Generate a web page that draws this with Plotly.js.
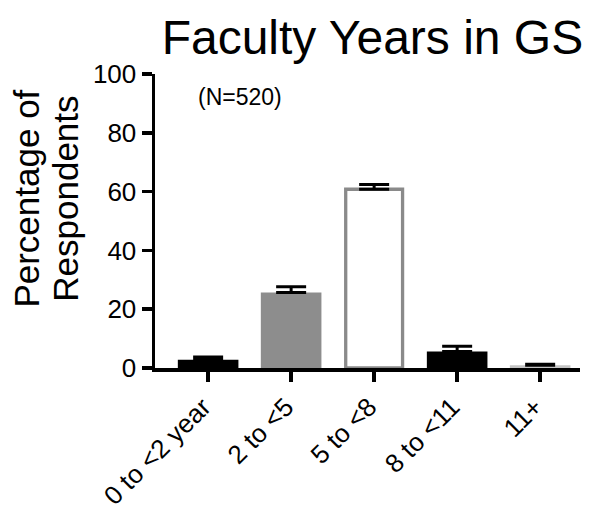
<!DOCTYPE html>
<html>
<head>
<meta charset="utf-8">
<script src="https://cdn.plot.ly/plotly-3.0.1.min.js"></script>
<style>html,body{margin:0;padding:0;background:#fff;}#chart{width:594px;height:510px;}</style>
</head>
<body>
<div id="chart"></div>
<script>
var categories = ['0 to <2 year', '2 to <5', '5 to <8', '8 to <11', '11+'];
var percentages = [2.8, 25.7, 60.8, 5.6, 0.9];
var errorsUp = [0.9, 1.9, 1.6, 1.8, 0.4];
var yTickValues = [0, 20, 40, 60, 80, 100];
var titleText = 'Faculty Years in GS';
var yTitleLines = ['Percentage of', 'Respondents'];
var sampleNote = '(N=520)';

var FONT = 'Liberation Sans, Arial, Helvetica, sans-serif';

var trace = {
  type: 'bar',
  x: categories,
  y: percentages,
  width: [0.73, 0.73, 0.685, 0.73, 0.73],
  marker: {
    color: ['#000000', '#8d8d8d', '#ffffff', '#000000', '#c4c4c4'],
    line: {color: ['#000000', '#8d8d8d', '#8a8a8a', '#000000', '#c4c4c4'], width: [0, 0, 3.3, 0, 0]}
  },
  error_y: {
    type: 'data',
    symmetric: false,
    array: errorsUp,
    arrayminus: percentages.map(function(){return 0;}),
    color: '#000000',
    thickness: 3,
    width: 15
  },
  hoverinfo: 'x+y'
};

var layout = {
  width: 594,
  height: 510,
  margin: {l: 155, r: 14, t: 74, b: 142, pad: 0},
  paper_bgcolor: '#ffffff',
  plot_bgcolor: '#ffffff',
  showlegend: false,
  font: {family: FONT, color: '#000000'},
  title: {
    text: titleText,
    font: {family: FONT, size: 48, color: '#000000'},
    x: 0.627, xref: 'container', xanchor: 'center',
    y: 0.928, yref: 'container', yanchor: 'middle'
  },
  xaxis: {
    type: 'category',
    range: [-0.64, 4.48],
    showline: true, linecolor: '#000000', linewidth: 3.5,
    ticks: 'outside', ticklen: 10, tickwidth: 3.5, tickcolor: '#000000',
    ticklabelstandoff: 0,
    ticklabelshift: -5,
    tickangle: -45,
    tickfont: {family: FONT, size: 26, color: '#000000'},
    showgrid: false, zeroline: false, fixedrange: true
  },
  yaxis: {
    range: [0, 100],
    tickvals: yTickValues,
    ticktext: yTickValues.map(String),
    showline: true, linecolor: '#000000', linewidth: 3.5,
    ticks: 'outside', ticklen: 10, tickwidth: 3.5, tickcolor: '#000000',
    tickfont: {family: FONT, size: 26, color: '#000000'},
    showgrid: false, zeroline: false, fixedrange: true
  },
  annotations: [
    {text: yTitleLines[0], textangle: -90, xref: 'paper', yref: 'paper', x: -0.302, y: 0.575,
     xanchor: 'center', yanchor: 'middle', showarrow: false, font: {family: FONT, size: 35, color: '#000000'}},
    {text: yTitleLines[1], textangle: -90, xref: 'paper', yref: 'paper', x: -0.21, y: 0.575,
     xanchor: 'center', yanchor: 'middle', showarrow: false, font: {family: FONT, size: 35, color: '#000000'}},
    {text: sampleNote, xref: 'x', yref: 'y', x: 0.38, y: 92.3,
     xanchor: 'center', yanchor: 'middle', showarrow: false, font: {family: FONT, size: 23, color: '#000000'}}
  ]
};

Plotly.newPlot('chart', [trace], layout, {displayModeBar: false, staticPlot: true});
</script>
</body>
</html>
